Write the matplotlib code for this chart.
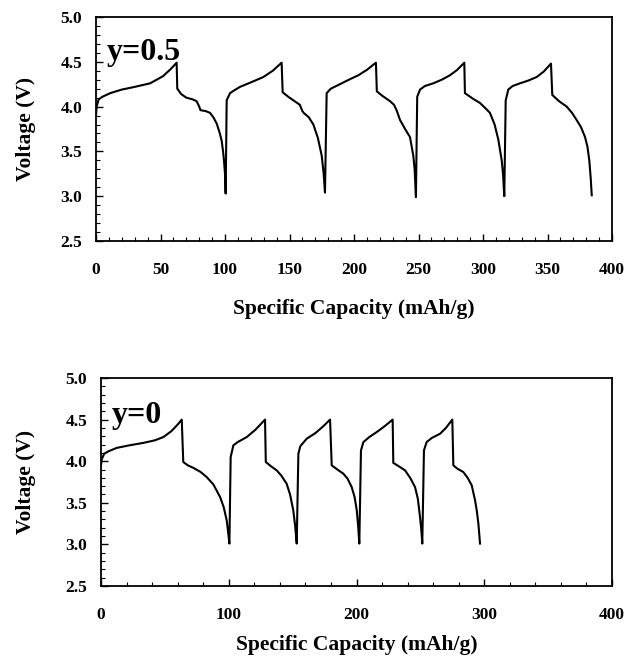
import matplotlib
matplotlib.use("Agg")
import matplotlib.pyplot as plt
from matplotlib.ticker import MultipleLocator, FormatStrFormatter

# ---- data: y = 0.5 ----
cap_a = [0, 0.5, 2, 5, 11, 20, 30, 42, 52, 58, 62.5,
         63, 66, 70, 75, 78, 80, 81, 85, 88.4, 91, 93.6, 96, 97.4, 98.5, 99.2, 100, 100.5,
         101.3, 103.9, 107, 111.6, 120, 129.7, 137, 143.9,
         144.7, 149, 153, 158, 160, 161, 165, 168.5, 172, 175, 176.5, 177.5,
         178.8, 182, 189.1, 196, 203.4, 210, 217,
         217.7, 222, 228, 231, 233, 235.7, 240, 243.4, 246, 247, 248,
         249, 251.2, 255, 261.5, 268, 274.4, 280, 285.5,
         286, 292, 297.7, 302, 305.4, 309, 311.9, 314.5, 315.5, 316.5,
         317.6, 319.6, 323, 328.7, 335, 341.6, 347, 352.7,
         353.7, 359, 364.9, 369, 372.6, 376, 379.1, 381, 382.4, 383.5, 384.3]
volt_a = [3.90, 4.00, 4.08, 4.11, 4.15, 4.19, 4.22, 4.26, 4.34, 4.42, 4.49,
          4.20, 4.14, 4.10, 4.08, 4.06, 4.00, 3.96, 3.95, 3.93, 3.88, 3.81, 3.70, 3.62, 3.50, 3.40, 3.25, 3.03,
          4.07, 4.15, 4.18, 4.22, 4.27, 4.33, 4.40, 4.49,
          4.16, 4.11, 4.07, 4.02, 3.95, 3.93, 3.88, 3.80, 3.65, 3.45, 3.25, 3.04,
          4.15, 4.20, 4.25, 4.30, 4.35, 4.41, 4.49,
          4.17, 4.12, 4.06, 4.02, 3.96, 3.85, 3.74, 3.66, 3.45, 3.30, 2.99,
          4.11, 4.19, 4.23, 4.26, 4.30, 4.35, 4.41, 4.49,
          4.15, 4.09, 4.04, 3.98, 3.93, 3.80, 3.63, 3.40, 3.25, 3.00,
          4.07, 4.19, 4.23, 4.26, 4.29, 4.33, 4.39, 4.48,
          4.13, 4.06, 4.00, 3.93, 3.85, 3.77, 3.66, 3.55, 3.40, 3.20, 3.01]

# ---- data: y = 0 ----
cap_b = [0, 0.5, 2.5, 6, 12.3, 22, 33, 42, 48.8, 55, 60, 63.2,
         64.4, 68, 72.3, 78, 82.7, 88, 93.2, 96, 98.4, 99.5, 100.5,
         101.5, 103.6, 107, 114.1, 121, 128.4,
         129, 133, 137.5, 141, 145.3, 148, 150.5, 152, 153.2,
         154.5, 156, 161, 168, 174, 179.3,
         180.6, 185, 189.7, 193, 196.2, 198.5, 200.2, 201.3, 202.2,
         203.5, 205.4, 210, 215.8, 222, 228.3,
         228.8, 233, 238, 242, 245.8, 248, 249.7, 250.7, 251.5,
         252.8, 254.9, 259, 265.4, 270, 275,
         275.8, 279, 283.6, 287, 290.2, 292.8, 294.2, 295.4, 296.7]
volt_b = [3.95, 4.02, 4.09, 4.12, 4.16, 4.19, 4.22, 4.25, 4.29, 4.36, 4.44, 4.50,
          3.99, 3.95, 3.92, 3.87, 3.81, 3.72, 3.57, 3.45, 3.29, 3.15, 3.01,
          4.05, 4.19, 4.23, 4.29, 4.38, 4.50,
          3.99, 3.94, 3.89, 3.83, 3.73, 3.60, 3.41, 3.22, 3.01,
          4.09, 4.18, 4.27, 4.34, 4.42, 4.50,
          3.95, 3.90, 3.85, 3.79, 3.69, 3.57, 3.41, 3.22, 3.01,
          4.13, 4.23, 4.29, 4.35, 4.42, 4.50,
          3.98, 3.94, 3.89, 3.80, 3.69, 3.55, 3.33, 3.18, 3.01,
          4.13, 4.23, 4.28, 4.33, 4.40, 4.50,
          3.95, 3.91, 3.87, 3.80, 3.71, 3.53, 3.40, 3.25, 3.01]

label_a = "y=0.5"
label_b = "y=0"
xlabel = "Specific Capacity (mAh/g)"
ylabel = "Voltage (V)"

plt.rcParams['font.family'] = ['Liberation Serif', 'DejaVu Serif']
plt.rcParams['font.weight'] = 'bold'

W, H = 626, 659
fig = plt.figure(figsize=(W / 100, H / 100), dpi=100)

def ax_rect(l, t, r, b):
    return [l / W, 1 - b / H, (r - l) / W, (b - t) / H]

ax1 = fig.add_axes(ax_rect(96, 17, 612, 241))
ax2 = fig.add_axes(ax_rect(101, 378, 612, 586))

def style(ax, major_x, minor_x, ylab_x, xpad):
    ax.set_ylim(2.5, 5.0)
    ax.set_xlim(0, 400)
    ax.xaxis.set_major_locator(MultipleLocator(major_x))
    ax.xaxis.set_minor_locator(MultipleLocator(minor_x))
    ax.yaxis.set_major_locator(MultipleLocator(0.5))
    ax.yaxis.set_minor_locator(MultipleLocator(0.1))
    ax.yaxis.set_major_formatter(FormatStrFormatter('%.1f'))
    ax.tick_params(which='both', direction='in', top=False, right=False)
    ax.tick_params(which='major', length=5, width=1.0, labelsize=12.5)
    ax.tick_params(which='minor', length=3, width=0.8)
    ax.tick_params(axis='x', which='major', pad=15)
    ax.tick_params(axis='y', which='major', pad=10)
    for s in ax.spines.values():
        s.set_linewidth(1.3)
    ax.set_xlabel(xlabel, fontsize=15.5, fontweight='bold', labelpad=xpad)
    ax.set_ylabel(ylabel, fontsize=15.5, fontweight='bold', va='center')
    ax.yaxis.set_label_coords(ylab_x, 0.5)
    for lab in ax.get_xticklabels() + ax.get_yticklabels():
        lab.set_fontweight('bold')

ax1.plot(cap_a, volt_a, color='black', lw=1.5)
style(ax1, 50, 10, (26 - 96) / 516, 15)
ax1.text(0.021, 0.808, label_a, transform=ax1.transAxes, fontsize=23,
         fontweight='bold', va='baseline', ha='left')

ax2.plot(cap_b, volt_b, color='black', lw=1.5)
style(ax2, 100, 20, (26 - 101) / 511, 9)
ax2.text(0.0215, 0.784, label_b, transform=ax2.transAxes, fontsize=23,
         fontweight='bold', va='baseline', ha='left')

fig.savefig("out.png", dpi=100)
